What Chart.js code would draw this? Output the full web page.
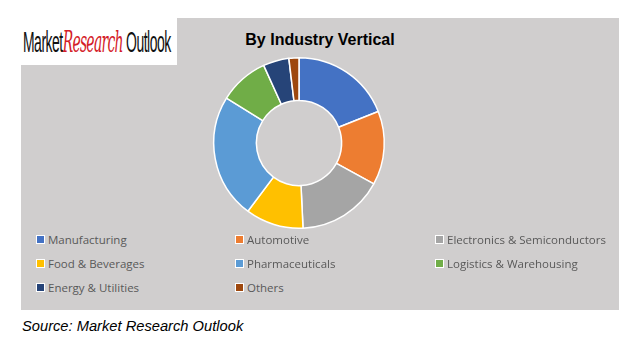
<!DOCTYPE html>
<html>
<head>
<meta charset="utf-8">
<script src="https://cdn.jsdelivr.net/npm/chart.js@4"></script>
<style>
  html, body { margin: 0; padding: 0; background: #fff; width: 626px; height: 347px; overflow: hidden; }
  #panel { position: absolute; left: 21px; top: 18px; width: 598px; height: 292px; background: #d0cece; }
  #logo { position: absolute; left: 0; top: 18px; width: 177px; height: 47px; background: #fff; }
  #logo span.t { display: inline-block; position: absolute; top: 7px; left: 23px; white-space: nowrap; font-family: "Liberation Sans Narrow", "Liberation Sans", Arial, sans-serif;
    font-size: 29px; letter-spacing: -1px; transform: scaleX(0.48); transform-origin: left top; color: #111; }
  #logo span.r { color: #d42027; font-family: "DejaVu Serif", serif; font-style: italic; letter-spacing: -1.5px; }
  #title { position: absolute; left: 220px; top: 31px; width: 200px; text-align: center; font: bold 16px "Liberation Sans", Arial, sans-serif; color: #000; }
  #wrap { position: absolute; left: 199px; top: 43px; width: 200px; height: 200px; }
  #legend { position: absolute; left: 0; top: 0; }
  .li { position: absolute; font: 11.5px "Open Sans", sans-serif; color: #595959; white-space: nowrap; }
  .li i { display: inline-block; width: 7px; height: 7px; border: 1px solid #fff; margin-right: 3px; vertical-align: -0px; }
  #source { position: absolute; left: 22px; top: 318px; font: italic 14.7px "Liberation Sans", Arial, sans-serif; color: #000; }
</style>
</head>
<body>
<div id="panel"></div>
<div id="logo"><span class="t">Market<span class="r">Research</span> Outlook</span></div>
<div id="title">By Industry Vertical</div>
<div id="wrap"><canvas id="chart" width="200" height="200"></canvas></div>
<div id="legend"></div>
<div id="source">Source: Market Research Outlook</div>
<script>
// ====== DATA ======
const labels = ['Manufacturing', 'Automotive', 'Electronics & Semiconductors', 'Food & Beverages',
                'Pharmaceuticals', 'Logistics & Warehousing', 'Energy & Utilities', 'Others'];
const shares = [19, 14, 16.3, 11, 23.6, 9.4, 4.9, 1.9];
const colors = ['#4472c4', '#ed7d31', '#a5a5a5', '#ffc000', '#5b9bd5', '#70ad47', '#264478', '#9e480e'];

// ====== CHART ======
new Chart(document.getElementById('chart'), {
  type: 'doughnut',
  data: {
    labels,
    datasets: [{ data: shares, backgroundColor: colors, borderColor: '#fff', borderWidth: 1.5 }]
  },
  options: {
    responsive: false,
    animation: false,
    cutout: '50%',
    layout: { padding: 14 },
    plugins: { legend: { display: false }, tooltip: { enabled: false } }
  }
});

// ====== LEGEND ======
const legend = document.getElementById('legend');
const colX = [36, 235, 435], rowY = [232, 256, 280];
labels.forEach((l, i) => {
  const d = document.createElement('div');
  d.className = 'li';
  d.style.left = colX[i % 3] + 'px';
  d.style.top = rowY[Math.floor(i / 3)] + 'px';
  d.innerHTML = `<i style="background:${colors[i]}"></i>${l}`;
  legend.appendChild(d);
});
</script>
</body>
</html>
